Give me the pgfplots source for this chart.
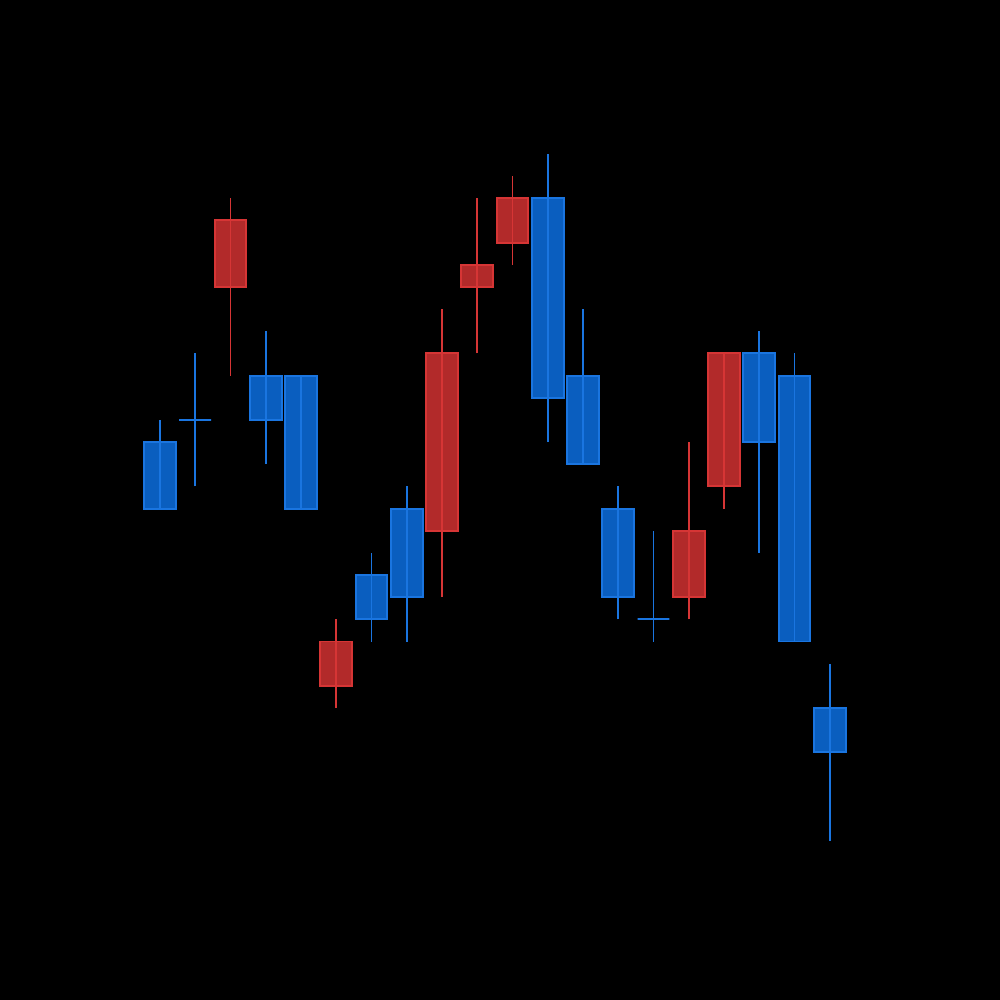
\documentclass[border=0pt]{standalone}
\usepackage{pgfplots}
\usepackage{pgfplotstable}
\pgfplotsset{compat=1.18}
\usepgfplotslibrary{statistics}
\definecolor{upfill}{HTML}{0A5EBF}
\definecolor{upedge}{HTML}{1A75E0}
\definecolor{dnfill}{HTML}{B22A2A}
\definecolor{dnedge}{HTML}{D63535}
\tikzset{
  bluec/.style={draw=upedge, fill=upfill, line width=0.55pt},
  redc/.style={draw=dnedge, fill=dnfill, line width=0.55pt},
  bluecw/.style={draw=upedge, line width=0.45pt},
  redcw/.style={draw=dnedge, line width=0.45pt},
}
% x lo bot top hi col
\pgfplotstableread{
x lo bot top hi col
1 24 24 27 28 bluec
2 25 28 28 31 bluec
3 30 34 37 38 redc
4 26 28 30 32 bluec
5 24 24 30 30 bluec
6 15 16 18 19 redc
7 18 19 21 22 bluec
8 18 20 24 25 bluec
9 20 23 31 33 redc
10 31 34 35 38 redc
11 35 36 38 39 redc
12 27 29 38 40 bluec
13 26 26 30 33 bluec
14 19 20 24 25 bluec
15 18 19 19 23 bluec
16 19 20 23 27 redc
17 24 25 31 31 redc
18 22 27 31 32 bluec
19 18 18 30 31 bluec
20 9 13 15 17 bluec
}\candles
\begin{document}
\begin{tikzpicture}
\fill[black] (0,0) rectangle (10cm,10cm);
\begin{axis}[
  at={(0,0)}, anchor=south west,
  scale only axis, width=10cm, height=10cm,
  hide axis, clip=false,
  xmin=-3.539, xmax=24.830,
  ymin=1.823, ymax=46.95,
]
\pgfplotsforeachungrouped \i in {0,...,19}{
  \pgfplotstablegetelem{\i}{x}\of\candles \let\cx=\pgfplotsretval
  \pgfplotstablegetelem{\i}{bot}\of\candles \let\cb=\pgfplotsretval
  \pgfplotstablegetelem{\i}{top}\of\candles \let\ct=\pgfplotsretval
  \pgfplotstablegetelem{\i}{col}\of\candles \let\cc=\pgfplotsretval
  \edef\tmp{\noexpand\addplot[\cc, solid, mark=none, boxplot prepared={draw direction=y, draw position=\cx, lower whisker=\cb, lower quartile=\cb, median=\cb, upper quartile=\ct, upper whisker=\ct, box extend=0.9, whisker extend=0}] coordinates {};}
  \tmp
}
% wicks
\pgfplotsforeachungrouped \i in {0,...,19}{
  \pgfplotstablegetelem{\i}{x}\of\candles \let\cx=\pgfplotsretval
  \pgfplotstablegetelem{\i}{lo}\of\candles \let\cl=\pgfplotsretval
  \pgfplotstablegetelem{\i}{hi}\of\candles \let\ch=\pgfplotsretval
  \pgfplotstablegetelem{\i}{col}\of\candles \let\cc=\pgfplotsretval
  \edef\tmp{\noexpand\addplot[\cc w, mark=none] coordinates {(\cx,\cl) (\cx,\ch)};}
  \tmp
}
\end{axis}
\end{tikzpicture}
\end{document}
